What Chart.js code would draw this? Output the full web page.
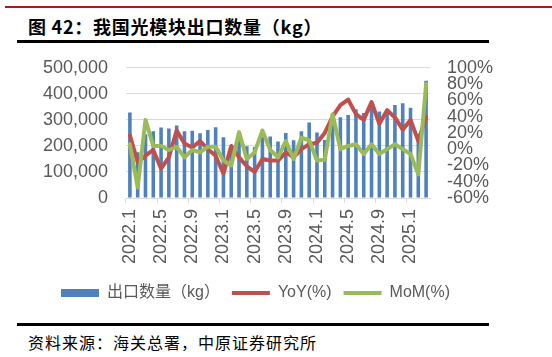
<!DOCTYPE html>
<html><head><meta charset="utf-8">
<script src="https://cdn.jsdelivr.net/npm/chart.js@4/dist/chart.umd.min.js"></script>
<style>
html,body{margin:0;padding:0;background:#fff;width:552px;height:357px;overflow:hidden;}
.abs{position:absolute;}
#redline{left:5px;top:6px;width:547px;height:2px;background:#A31F1F;}
#title{left:28px;top:16px;font-family:"Noto Sans CJK SC";font-weight:bold;font-size:18px;line-height:20px;color:#000;white-space:nowrap;letter-spacing:0.75px;}
#line1{left:17px;top:40px;width:472px;height:3px;background:#000;}
#line2{left:17px;top:323px;width:472px;height:3px;background:#000;}
#source{left:28px;top:332px;font-family:"Noto Sans CJK SC";font-size:16px;line-height:20px;color:#000;white-space:nowrap;letter-spacing:1px;}
#wrap{left:0;top:39px;width:511px;height:272px;}
canvas{display:block;}
</style>
</head><body>
<div id="redline" class="abs"></div>
<div id="title" class="abs">图 42：我国光模块出口数量（kg）</div>
<div id="line1" class="abs"></div>
<div id="wrap" class="abs"><canvas id="c" width="511" height="272"></canvas></div>
<div id="line2" class="abs"></div>
<div id="source" class="abs">资料来源：海关总署，中原证券研究所</div>
<script>
const labels = ['2022.1','2022.2','2022.3','2022.4','2022.5','2022.6','2022.7','2022.8','2022.9','2022.10','2022.11','2022.12',
  '2023.1','2023.2','2023.3','2023.4','2023.5','2023.6','2023.7','2023.8','2023.9','2023.10','2023.11','2023.12',
  '2024.1','2024.2','2024.3','2024.4','2024.5','2024.6','2024.7','2024.8','2024.9','2024.10','2024.11','2024.12',
  '2025.1','2025.2','2025.3'];
const shownLabels = ['2022.1','2022.5','2022.9','2023.1','2023.5','2023.9','2024.1','2024.5','2024.9','2025.1'];
const exportQty = [328000,176000,245000,256000,271000,267000,278000,256000,258000,249000,261000,272000,
  233000,192000,228000,199000,196000,240000,236000,217000,250000,222000,256000,290000,
  252000,223000,318000,310000,319000,341000,326000,345000,332000,338000,357000,364000,
  347000,247000,450000];
const yoy = [17,-16,-8,-1,-24,-10,23,7,2,10,0,-8,
  -30,4,-10,-21,-28,-12,-14,-14,-4,-10,0,6,
  8,20,40,54,61,43,36,58,31,48,39,24,
  36,10,40];
const mom = [6,-47,36,4,4,-1,3,-10,-1,-4,3,3,
  -14,-20,21,-12,-4,23,-1,-10,10,-12,14,11,
  -14,-13,43,0,4,6,-6,6,-6,0,6,0,
  -6,-31,80];
const leftMin = 0, leftMax = 500000, leftStep = 100000;
const rightMin = -60, rightMax = 100, rightStep = 20;
const seriesNames = ['出口数量（kg）','YoY(%)','MoM(%)'];

const axisFont = {family:'"Liberation Sans", Arial, sans-serif', size:18};
const gray = '#595959';

new Chart(document.getElementById('c'), {
  data: {
    labels: labels,
    datasets: [
      {type:'bar', label:seriesNames[0], data:exportQty, backgroundColor:'#4F81BD', borderWidth:0,
       yAxisID:'y', order:3, categoryPercentage:1.0, barPercentage:0.46, pointStyle:'rect'},
      {type:'line', label:seriesNames[1], data:yoy, borderColor:'#C0504D', backgroundColor:'#C0504D',
       borderWidth:4, pointRadius:0, tension:0, yAxisID:'y1', order:2, borderCapStyle:'round', borderJoinStyle:'round', pointStyle:'line'},
      {type:'line', label:seriesNames[2], data:mom, borderColor:'#9BBB59', backgroundColor:'#9BBB59',
       borderWidth:4, pointRadius:0, tension:0, yAxisID:'y1', order:1, borderCapStyle:'round', borderJoinStyle:'round', pointStyle:'line'}
    ]
  },
  options: {
    responsive:false, animation:false, devicePixelRatio:1,
    layout:{padding:{top:0, left:0, right:0, bottom:0}},
    plugins:{
      tooltip:{enabled:false},
      legend:{position:'bottom',
        labels:{usePointStyle:true, pointStyleWidth:38, boxHeight:8, padding:12, color:gray,
          font:{family:'"Liberation Sans", "Noto Sans CJK SC", sans-serif', size:16},
          sort:(a,b)=>a.datasetIndex-b.datasetIndex}}
    },
    scales:{
      x:{offset:true,
        grid:{offset:true, drawOnChartArea:false, drawTicks:true, tickLength:5,
          color:(ctx)=> (ctx.index % 4 === 0) ? '#D9D9D9' : 'rgba(0,0,0,0)'},
        border:{display:true, color:'#D9D9D9'},
        ticks:{autoSkip:false, minRotation:90, maxRotation:90, padding:6, color:gray, font:axisFont,
          callback:function(v, i){ return shownLabels.includes(labels[i]) ? labels[i] : ''; }},
        afterFit:(s)=>{s.height = 75;}
      },
      y:{position:'left', min:leftMin, max:leftMax,
        grid:{color:'#D9D9D9', drawTicks:false},
        border:{display:false},
        ticks:{stepSize:leftStep, autoSkip:false, padding:18, color:gray, font:axisFont,
          callback:(v)=>v.toLocaleString('en-US')},
        afterFit:(s)=>{s.width = 126;}
      },
      y1:{position:'right', min:rightMin, max:rightMax,
        grid:{display:false, drawTicks:false},
        border:{display:false},
        ticks:{stepSize:rightStep, autoSkip:false, padding:17, color:gray, font:axisFont,
          callback:(v)=>v+'%'},
        afterFit:(s)=>{s.width = 81;}
      }
    }
  }
});
</script>
</body></html>
